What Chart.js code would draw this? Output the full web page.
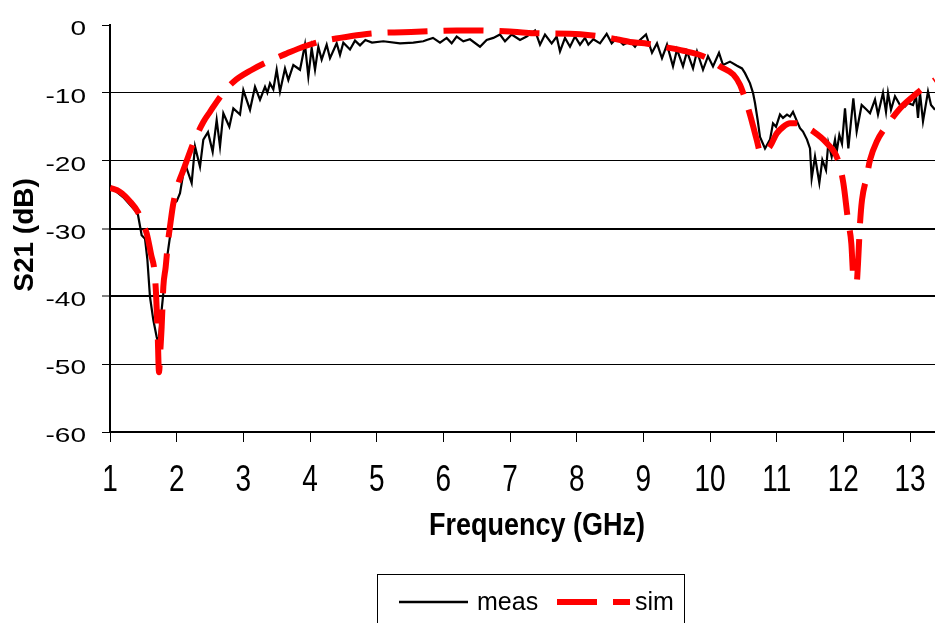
<!DOCTYPE html>
<html>
<head>
<meta charset="utf-8">
<script src="https://cdn.jsdelivr.net/npm/chart.js@4/dist/chart.umd.min.js"></script>
<style>
  html, body { margin: 0; padding: 0; background: #fff; overflow: hidden; }
  #wrap { position: relative; width: 935px; height: 623px; }
</style>
</head>
<body>
<div id="wrap"><canvas id="c" width="935" height="623"></canvas></div>
<script>
// ---- data ----
const freqMeas = [1.00,1.10,1.20,1.30,1.38,1.42,1.475,1.525,1.56,1.60,1.65,1.70,1.725,1.75,1.775,1.825,1.86,1.90,1.95,2.00,
  2.05,2.125,2.225,2.275,2.35,2.40,2.47,2.54,2.60,2.65,2.70,2.79,2.85,2.95,3.00,3.10,3.175,3.25,3.325,3.36,
  3.40,3.45,3.50,3.55,3.625,3.675,3.75,3.85,3.925,3.975,4.025,4.075,4.125,4.175,4.25,4.30,4.40,4.45,4.50,4.60,
  4.675,4.75,4.83,4.93,5.10,5.35,5.55,5.70,5.75,5.845,5.95,6.05,6.125,6.20,6.30,6.40,6.55,6.65,6.75,6.85,
  6.925,7.025,7.15,7.25,7.375,7.45,7.525,7.625,7.70,7.75,7.825,7.90,7.975,8.05,8.125,8.175,8.25,8.35,8.45,8.525,
  8.60,8.70,8.80,8.875,8.95,9.04,9.13,9.205,9.28,9.355,9.445,9.505,9.595,9.655,9.745,9.805,9.895,9.97,10.045,10.135,
  10.195,10.30,10.405,10.48,10.525,10.60,10.645,10.675,10.715,10.75,10.825,10.90,10.945,10.99,11.05,11.095,11.155,11.20,11.245,11.305,
  11.35,11.395,11.455,11.50,11.525,11.575,11.64,11.685,11.74,11.775,11.825,11.875,11.90,11.94,11.98,12.025,12.075,12.15,12.20,12.275,
  12.35,12.40,12.475,12.52,12.595,12.64,12.67,12.715,12.775,12.85,12.925,12.97,13.045,13.09,13.12,13.15,13.195,13.27,13.315,13.375];
const s21Meas = [-24.0,-24.6,-25.4,-26.5,-27.4,-28.0,-31.0,-31.5,-34.5,-40.1,-43.5,-46.0,-46.9,-44.5,-42.0,-37.1,-34.0,-31.2,-26.3,-26.0,
  -24.8,-20.4,-23.3,-17.9,-20.9,-16.9,-15.8,-18.7,-14.0,-17.9,-13.0,-15.0,-12.3,-13.2,-9.6,-12.5,-9.1,-11.0,-9.1,-10.0,
  -8.6,-9.5,-6.6,-9.8,-6.4,-8.1,-5.9,-6.6,-2.9,-7.6,-3.4,-6.6,-3.2,-5.1,-2.9,-4.9,-2.7,-4.4,-2.6,-3.6,
  -2.3,-3.0,-2.2,-2.6,-2.4,-2.7,-2.6,-2.4,-2.2,-1.9,-2.6,-1.9,-2.7,-1.7,-2.4,-2.1,-3.2,-2.2,-1.9,-1.4,
  -2.4,-1.4,-2.2,-1.7,-0.8,-2.9,-1.4,-2.7,-1.7,-3.9,-1.9,-3.2,-1.7,-2.9,-1.9,-2.9,-2.1,-2.7,-1.3,-2.7,
  -1.9,-2.9,-2.4,-3.2,-2.2,-1.4,-4.1,-2.7,-4.9,-2.9,-6.1,-3.6,-6.1,-3.9,-6.4,-3.9,-6.6,-4.6,-6.1,-4.1,
  -5.9,-5.4,-6.0,-6.4,-7.1,-8.6,-10.0,-11.5,-14.0,-16.5,-18.2,-16.9,-14.5,-15.0,-13.2,-13.7,-13.2,-13.5,-12.8,-14.2,
  -15.2,-15.7,-16.9,-18.2,-22.6,-19.4,-23.3,-19.9,-21.4,-17.4,-19.4,-16.9,-18.7,-16.2,-17.5,-12.3,-18.2,-10.8,-15.7,-11.8,
  -12.5,-13.0,-11.0,-13.2,-10.0,-12.8,-10.0,-12.5,-10.5,-11.8,-12.0,-11.5,-11.8,-10.5,-13.7,-10.0,-14.2,-9.8,-11.8,-12.5];

const freqSim = [1.00,1.15,1.30,1.42,1.50,1.55,1.62,1.665,1.69,1.715,1.735,1.755,1.775,1.80,1.835,1.87,1.90,1.95,2.02,2.10,
  2.25,2.40,2.50,2.66,2.85,3.13,3.37,3.65,3.90,4.17,4.45,4.77,5.00,5.60,6.20,6.50,7.05,7.35,7.90,8.20,
  8.50,8.80,9.02,9.32,9.60,9.87,10.05,10.15,10.35,10.45,10.50,10.60,10.70,10.76,10.83,10.90,11.00,11.10,11.20,11.30,
  11.40,11.55,11.75,11.92,12.00,12.07,12.12,12.15,12.20,12.22,12.25,12.28,12.35,12.40,12.50,12.70,12.85,13.05,13.20,13.375];
const s21Sim = [-24.0,-24.6,-26.0,-27.6,-29.5,-30.7,-34.0,-36.1,-39.5,-45.5,-51.2,-48.0,-44.5,-38.6,-35.7,-32.0,-29.7,-26.3,-23.5,-21.4,
  -17.4,-14.3,-12.8,-10.5,-8.4,-6.6,-5.4,-4.2,-3.2,-2.4,-1.9,-1.43,-1.2,-1.0,-0.8,-0.8,-1.0,-1.2,-1.3,-1.5,
  -1.9,-2.5,-2.7,-3.25,-3.8,-4.5,-5.4,-6.1,-7.3,-8.8,-10.1,-13.2,-16.9,-18.9,-18.6,-17.9,-16.0,-15.0,-14.5,-14.5,
  -14.9,-15.7,-17.4,-19.9,-23.3,-28.8,-32.2,-37.1,-37.9,-35.2,-29.3,-25.8,-22.4,-19.9,-17.2,-14.2,-12.3,-10.5,-9.3,-8.1];

const xTickValues = [1,2,3,4,5,6,7,8,9,10,11,12,13];
const yTickValues = [0,-10,-20,-30,-40,-50,-60];
const seriesNames = ['meas', 'sim'];
const xTitle = 'Frequency (GHz)';
const yTitle = 'S21 (dB)';

// ---- chart ----
const FONT = '"Liberation Sans", Arial, Helvetica, sans-serif';

const textPlugin = {
  id: 'textPlugin',
  afterDraw(chart) {
    const ctx = chart.ctx;
    const xs = chart.scales.x, ys = chart.scales.y;
    ctx.save();
    ctx.fillStyle = '#000';
    // y tick labels
    ctx.font = '28px ' + FONT;
    ctx.textAlign = 'right';
    ctx.textBaseline = 'alphabetic';
    ys.ticks.forEach(t => {
      const py = ys.getPixelForValue(t.value);
      ctx.save();
      ctx.translate(86, py + 10);
      ctx.scale(1, 0.75);
      ctx.fillText(String(t.value), 0, 0);
      ctx.restore();
    });
    // x tick labels
    ctx.textAlign = 'center';
    xs.ticks.forEach(t => {
      const px = xs.getPixelForValue(t.value);
      ctx.save();
      ctx.translate(px, 491);
      ctx.scale(1, 1.35);
      ctx.fillText(String(t.value), 0, 0);
      ctx.restore();
    });
    // x title
    ctx.font = 'bold 27px ' + FONT;
    ctx.save();
    ctx.translate(537, 535);
    ctx.scale(1, 1.19);
    ctx.fillText(xTitle, 0, 0);
    ctx.restore();
    // y title
    ctx.font = 'bold 28px ' + FONT;
    ctx.save();
    ctx.translate(33, 235);
    ctx.rotate(-Math.PI / 2);
    ctx.fillText(yTitle, 0, 0);
    ctx.restore();

    // legend box
    ctx.lineWidth = 1;
    ctx.strokeStyle = '#000';
    ctx.strokeRect(377.5, 574.5, 307, 60);
    const ly = 602;
    ctx.lineWidth = 2.5;
    ctx.beginPath(); ctx.moveTo(399, ly); ctx.lineTo(468, ly); ctx.stroke();
    ctx.save();
    ctx.strokeStyle = '#ff0000';
    ctx.lineWidth = 6;
    ctx.setLineDash([40, 16]);
    ctx.beginPath(); ctx.moveTo(557, ly); ctx.lineTo(630, ly); ctx.stroke();
    ctx.restore();
    ctx.font = '25px ' + FONT;
    ctx.textAlign = 'left';
    ctx.fillText(seriesNames[0], 477, 610);
    ctx.fillText(seriesNames[1], 635, 610);
    ctx.restore();
  }
};

new Chart(document.getElementById('c'), {
  type: 'line',
  data: {
    datasets: [
      {
        label: seriesNames[1],
        data: freqSim.map((f, i) => ({ x: f, y: s21Sim[i] })),
        borderColor: '#ff0000',
        borderWidth: 6,
        borderDash: [40, 16],
        borderCapStyle: 'butt',
        cubicInterpolationMode: 'monotone',
        pointRadius: 0,
        fill: false,
        order: 0
      },
      {
        label: seriesNames[0],
        data: freqMeas.map((f, i) => ({ x: f, y: s21Meas[i] })),
        borderColor: '#000000',
        borderWidth: 2.2,
        tension: 0,
        pointRadius: 0,
        fill: false,
        order: 1
      }
    ]
  },
  options: {
    responsive: false,
    animation: false,
    devicePixelRatio: 1,
    layout: { padding: { left: 102, right: 0, top: 25, bottom: 181 } },
    plugins: { legend: { display: false }, tooltip: { enabled: false } },
    scales: {
      x: {
        type: 'linear',
        min: 1,
        max: 13.375,
        afterBuildTicks: s => { s.ticks = xTickValues.map(v => ({ value: v })); },
        ticks: { display: false },
        grid: {
          drawOnChartArea: false,
          drawTicks: true,
          tickLength: 10,
          tickColor: '#000',
          tickWidth: 1,
          color: '#000'
        },
        border: { color: '#000', width: 2 },
        title: { display: false }
      },
      y: {
        type: 'linear',
        min: -60,
        max: 0,
        afterBuildTicks: s => { s.ticks = yTickValues.map(v => ({ value: v })); },
        ticks: { display: false },
        grid: {
          color: c => (c.tick && c.tick.value === 0) ? 'rgba(0,0,0,0)' : '#000',
          lineWidth: c => (c.tick && (c.tick.value === -30 || c.tick.value === -40)) ? 2 : 1,
          tickColor: '#000',
          tickWidth: 1,
          tickLength: 8,
          drawTicks: true
        },
        border: { color: '#000', width: 2 },
        title: { display: false }
      }
    }
  },
  plugins: [textPlugin]
});
</script>
</body>
</html>
